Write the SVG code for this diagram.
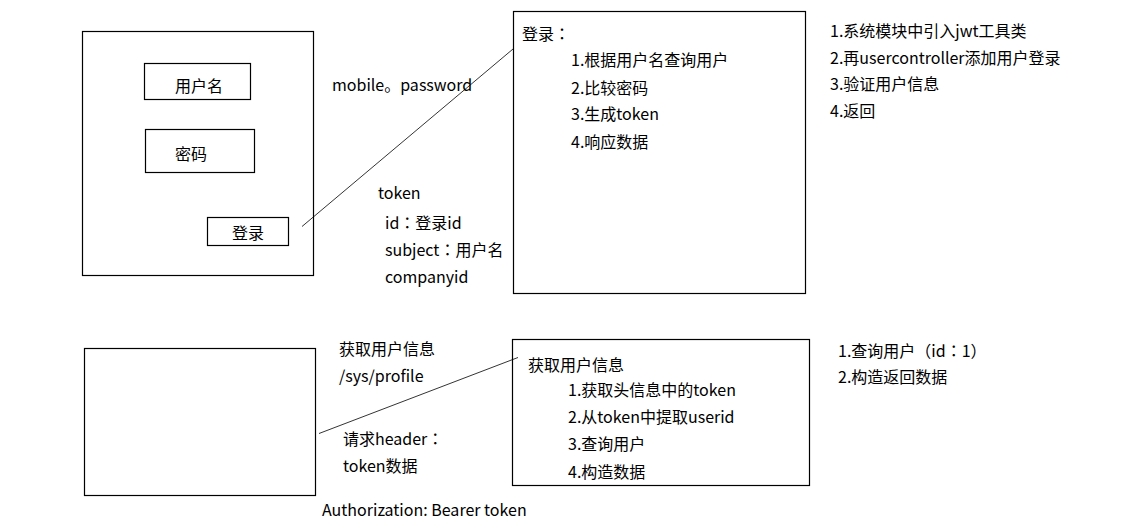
<svg xmlns="http://www.w3.org/2000/svg" width="1137" height="529" viewBox="0 0 1137 529">
<style>
.box{fill:#fff;stroke:#000;stroke-width:1.2}
.ln{stroke:#000;stroke-width:0.8;fill:none}
text{font-family:"Noto Sans CJK SC","Noto Sans",sans-serif;font-size:16px;fill:#000}
.c{font-family:"Noto Sans CJK TC","Noto Sans CJK SC",sans-serif}
</style>
<rect width="1137" height="529" fill="#fff"/>
<g id="login-page">
<rect class="box" x="82.5" y="31.5" width="231" height="244"/>
</g>
<g id="username-field">
<rect class="box" x="144.5" y="63.5" width="106" height="36"/>
<text x="175" y="91.5">用户名</text>
</g>
<g id="password-field">
<rect class="box" x="145.5" y="129.5" width="109" height="43"/>
<text x="175" y="160">密码</text>
</g>
<g id="login-button">
<rect class="box" x="207.5" y="217.5" width="81" height="28"/>
<text x="232" y="239">登录</text>
</g>
<g id="login-server">
<rect class="box" x="513.5" y="11.5" width="292" height="282"/>
<text x="522" y="39.5">登录<tspan class="c">：</tspan></text>
<text x="571" y="66">1.根据用户名查询用户</text>
<text x="571" y="93.5">2.比较密码</text>
<text x="571" y="120">3.生成token</text>
<text x="571" y="147.5">4.响应数据</text>
</g>
<g id="profile-page">
<rect class="box" x="84.5" y="348.5" width="231" height="147"/>
</g>
<g id="profile-server">
<rect class="box" x="512.5" y="339.5" width="297" height="146"/>
<text x="528" y="371">获取用户信息</text>
<text x="568" y="396">1.获取头信息中的token</text>
<text x="568" y="423">2.从token中提取userid</text>
<text x="568" y="450">3.查询用户</text>
<text x="568" y="477.5">4.构造数据</text>
</g>
<g id="connectors">
<line class="ln" x1="302" y1="226.5" x2="513" y2="49"/>
<line class="ln" x1="319" y1="433.5" x2="518" y2="357.5"/>
</g>
<g id="labels">
<text x="332" y="91">mobile。password</text>
<text x="378" y="198.5">token</text>
<text x="385" y="228.5">id<tspan class="c">：</tspan>登录id</text>
<text x="385" y="256">subject<tspan class="c">：</tspan>用户名</text>
<text x="385" y="282.5">companyid</text>
<text x="830" y="37">1.系统模块中引入jwt工具类</text>
<text x="830" y="63.5">2.再usercontroller添加用户登录</text>
<text x="830" y="90">3.验证用户信息</text>
<text x="830" y="117">4.返回</text>
<text x="339" y="355">获取用户信息</text>
<text x="339" y="382">/sys/profile</text>
<text x="343" y="445">请求header<tspan class="c">：</tspan></text>
<text x="343" y="472">token数据</text>
<text x="322" y="516">Authorization: Bearer token</text>
<text x="838" y="356.5">1.查询用户<tspan class="c">（</tspan>id<tspan class="c">：</tspan>1<tspan class="c">）</tspan></text>
<text x="838" y="383">2.构造返回数据</text>
</g>
</svg>
